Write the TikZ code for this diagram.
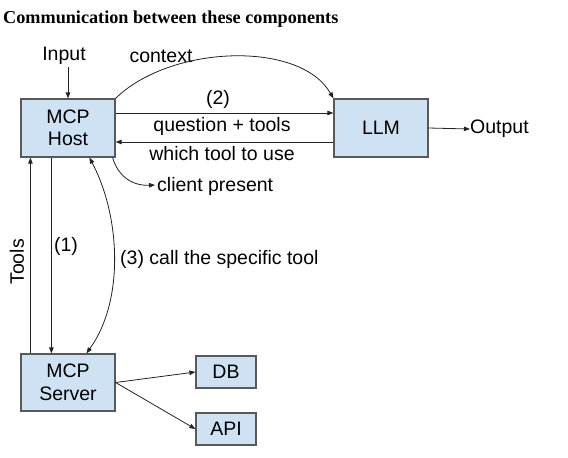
\documentclass[tikz,border=0pt]{standalone}
\usepackage{fontspec}
\setmainfont{Liberation Sans}
\newfontfamily\titlefont{Liberation Serif}
\usetikzlibrary{arrows.meta}
\definecolor{boxfill}{HTML}{CFE2F3}
\definecolor{boxline}{HTML}{595959}
\definecolor{arrcol}{HTML}{222222}
\begin{document}
\begin{tikzpicture}[x=1pt,y=-1pt,
  box/.style={draw=boxline,fill=boxfill,line width=1.2pt,align=center,inner sep=0pt,font=\fontsize{19.5}{22.5}\selectfont},
  lbl/.style={inner sep=0pt,font=\fontsize{19.5}{22.5}\selectfont},
  arr/.style={draw=arrcol,line width=0.8pt,-{Triangle[length=6pt,width=4.5pt]}},
  darr/.style={draw=arrcol,line width=0.8pt,{Triangle[length=6pt,width=4.5pt]}-{Triangle[length=6pt,width=4.5pt]}}]
\useasboundingbox (0,0) rectangle (568,458);
\node[anchor=west,inner sep=0pt,font=\titlefont\bfseries\fontsize{18.2}{20}\selectfont] (title) at (3,19) {Communication between these components};
\node[box,minimum width=94pt,minimum height=58pt] (host) at (68,128) {MCP\\Host};
\node[box,minimum width=94pt,minimum height=58pt] (llm) at (381,128) {LLM};
\node[box,minimum width=94pt,minimum height=57pt] (server) at (68,382.5) {MCP\\Server};
\node[box,minimum width=60pt,minimum height=32pt] (db) at (226,372) {DB};
\node[box,minimum width=60pt,minimum height=32pt] (api) at (226,429) {API};
\node[lbl] (input) at (64,56) {Input};
\node[lbl] (context) at (161,56) {context};
\node[lbl] (two) at (218,99) {(2)};
\node[lbl] (qt) at (222,126) {question + tools};
\node[lbl] (wt) at (222,154) {which tool to use};
\node[lbl,anchor=west] (output) at (470,129) {Output};
\node[lbl,anchor=west] (client) at (157,186) {client present};
\node[lbl,rotate=90] (tools) at (17,262) {Tools};
\node[lbl] (one) at (66,246) {(1)};
\node[lbl,anchor=west] (three) at (120,259) {(3) call the specific tool};
\coordinate (cpend) at ([xshift=-2pt,yshift=1pt]client.west);
\coordinate (inbeg) at ([yshift=-2pt]input.south -| host.north);
% connectors
\draw[arr] (inbeg) -- (host.north);
\draw[arr] (host.north east) .. controls (170,45) and (300,40) .. (llm.north west);
\draw[arr] ([yshift=15pt]host.east) -- ([yshift=15pt]llm.west);
\draw[arr] ([yshift=-14pt]llm.west) -- ([yshift=-14pt]host.east);
\draw[arr] (llm.east) -- (output.west);
\draw[arr] ([xshift=-3pt]host.south east) .. controls (118,176) and (132,186) .. (cpend);
\draw[arr] ([xshift=10pt]server.north west) -- ([xshift=10pt]host.south west);
\draw[arr] ([xshift=31pt]host.south west) -- ([xshift=31pt]server.north west);
\draw[darr] ([xshift=69pt]host.south west) .. controls (120,215) and (125,300) .. ([xshift=66pt]server.north west);
\draw[arr] (server.east) -- (db.west);
\draw[arr] (server.east) -- (api.west);
\end{tikzpicture}
\end{document}
